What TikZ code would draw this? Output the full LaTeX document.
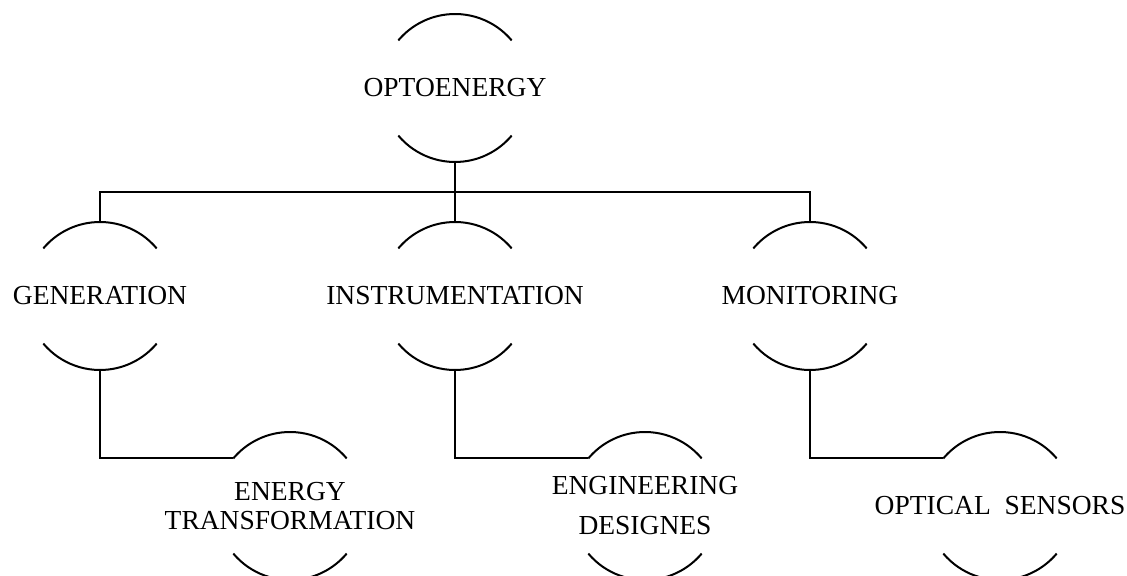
\documentclass[tikz,border=0pt]{standalone}
\usepackage{fontspec}
\setmainfont{Liberation Serif}
\usepackage{tikz}
\usetikzlibrary{calc}
\usetikzlibrary{positioning}
\tikzstyle{topic} = [inner sep=0pt, outer sep=0pt, align=center,
    font=\fontsize{13.75}{14.5}\selectfont]
\tikzstyle{link} = [draw, line width=1pt]

\begin{document}
\begin{tikzpicture}[auto, node distance=104pt, on grid, line width=1pt]
      \useasboundingbox (0,0) rectangle (563.5pt,-288pt);
      \node [topic] (opto) at (227.5pt,-44pt) {OPTOENERGY};
      \node [topic, below=of opto] (inst) {INSTRUMENTATION};
      \node [topic, left=177.5pt of inst] (gen) {GENERATION};
      \node [topic, right=177.5pt of inst] (mon) {MONITORING};
      \node [topic, below right=105pt and 95pt of gen] (energy) {ENERGY\\TRANSFORMATION};
      \node [topic, below right=105pt and 95pt of inst] (eng) {ENGINEERING\\[5.5pt]DESIGNES};
      \node [topic, below right=105pt and 95pt of mon] (optical) {OPTICAL\ \ SENSORS};

      % the two arcs round each topic
      \foreach \n in {opto,gen,inst,mon,energy,eng,optical} {
        \draw ([shift={(40:37pt)}]\n.center) arc[start angle=40, end angle=140, radius=37pt];
        \draw ([shift={(220:37pt)}]\n.center) arc[start angle=220, end angle=320, radius=37pt];
        \coordinate (\n-top) at ([yshift=37pt]\n.center);
        \coordinate (\n-bot) at ([yshift=-37pt]\n.center);
        \coordinate (\n-left) at ([shift={(140:37pt)}]\n.center);
      }

      \draw [link] (opto-bot) -- ++(0,-15pt) coordinate (bus);
      \draw [link] (gen-top) |- (bus) -| (mon-top);
      \draw [link] (bus) -- (inst-top);
      \draw [link] (gen-bot) |- (energy-left);
      \draw [link] (inst-bot) |- (eng-left);
      \draw [link] (mon-bot) |- (optical-left);
    \end{tikzpicture}
\end{document}
